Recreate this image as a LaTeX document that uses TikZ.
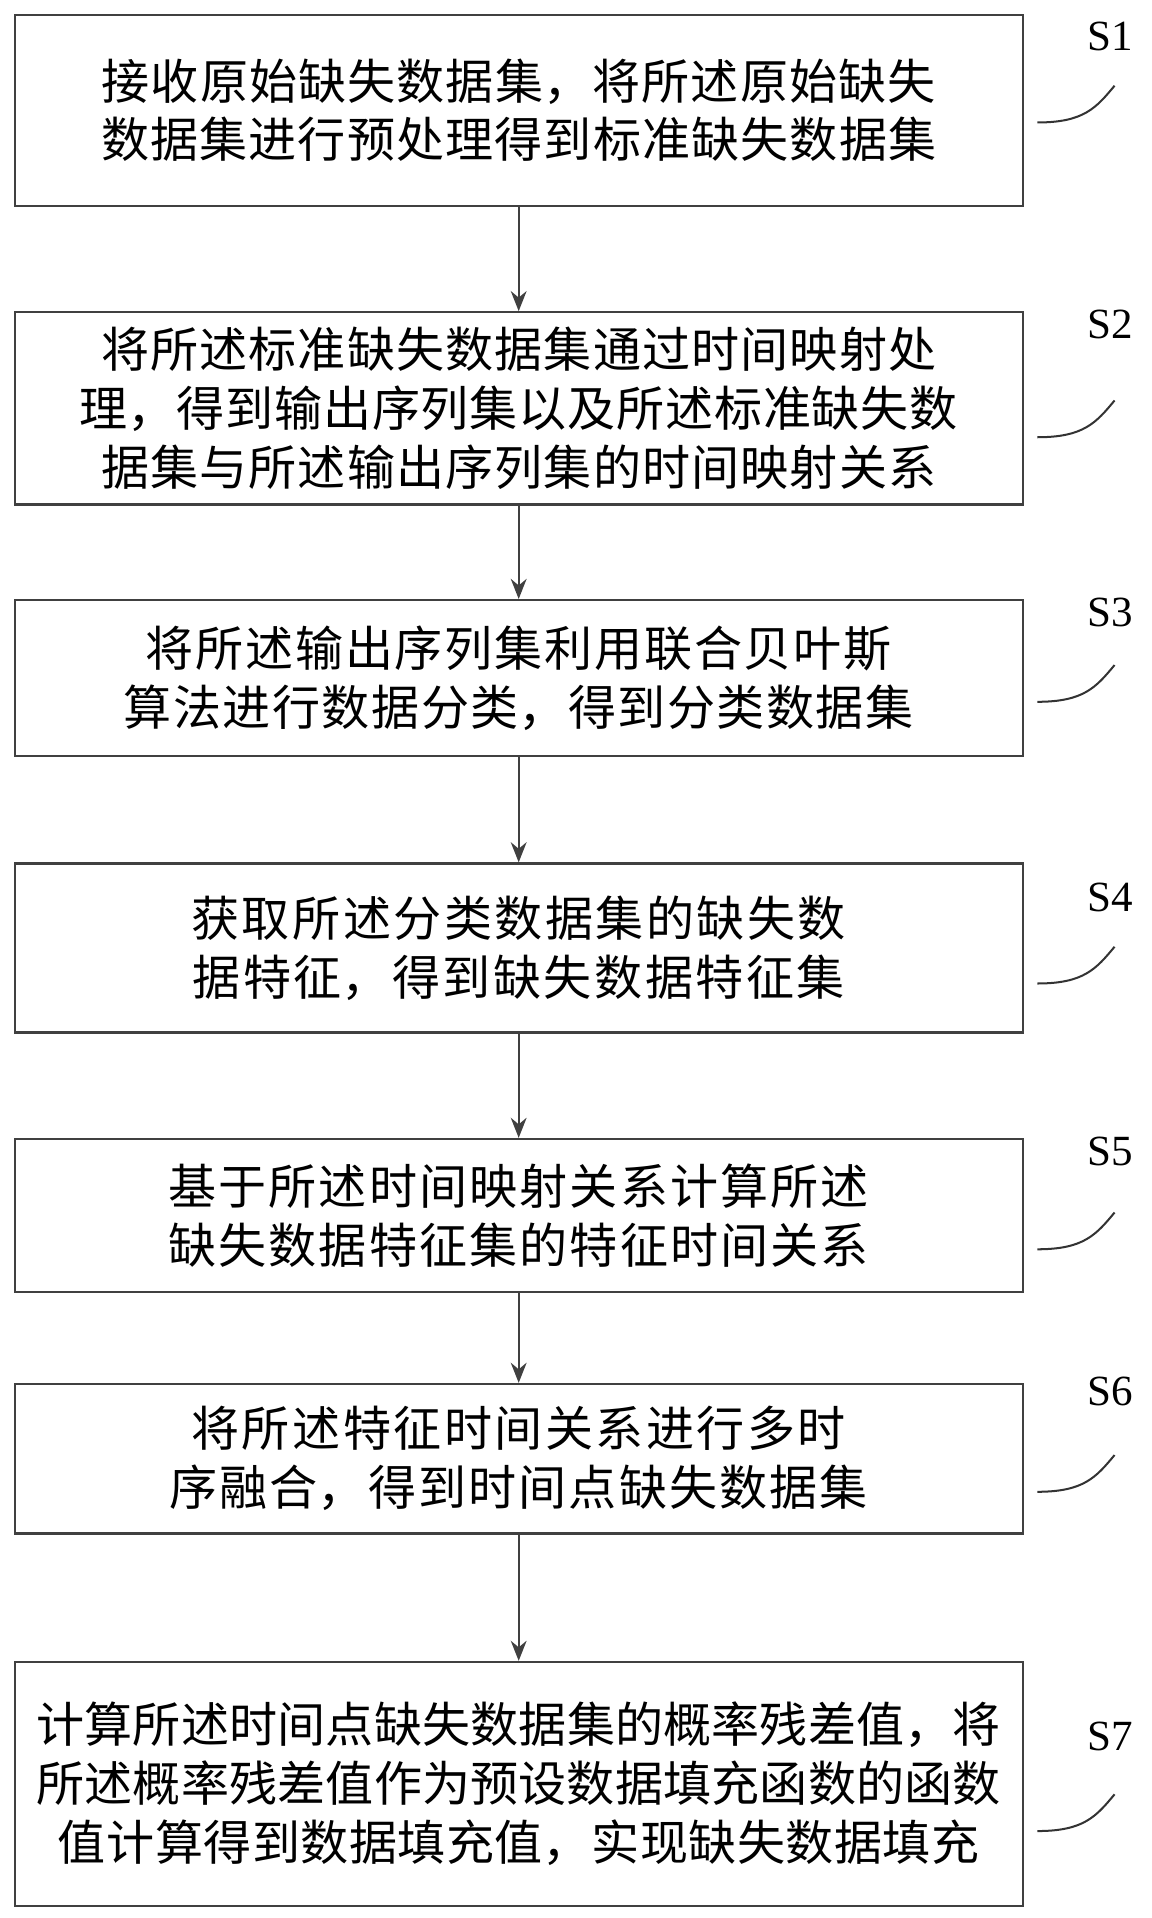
\documentclass[tikz,border=0pt]{standalone}
\usepackage{fontspec}
\setmainfont{Liberation Serif}
\newfontfamily\cjk{Noto Sans CJK SC}
\XeTeXlinebreaklocale "zh"
\XeTeXlinebreakskip=0pt plus 1pt
\usetikzlibrary{arrows.meta}
\tikzset{
  stepbox/.style={draw=black!75, line width=1.6pt, minimum width=823*0.03cm, text width=805*0.03cm,
    align=center, font=\cjk\fontsize{33.5}{41}\selectfont, inner sep=0pt},
  flow/.style={draw=black!75, line width=1.6pt, -{Stealth[length=14pt,width=11pt]}},
  tag/.style={font=\fontsize{30}{30}\selectfont, anchor=south west, inner sep=0pt},
  hook/.style={draw=black!80, line width=1.4pt}
}
\begin{document}
\begin{tikzpicture}[x=0.03cm,y=-0.03cm]
    \path[use as bounding box] (0,0) rectangle (940,1566);
    % Steps.
    \node[stepbox, minimum height=156*0.03cm] (s1) at (423.5,90) {接收原始缺失数据集，将所述原始缺失数据集进行预处理得到标准缺失数据集};
    \node[stepbox, minimum height=157*0.03cm] (s2) at (423.5,333.5) {将所述标准缺失数据集通过时间映射处理，得到输出序列集以及所述标准缺失数据集与所述输出序列集的时间映射关系};
    \node[stepbox, minimum height=127*0.03cm] (s3) at (423.5,553.5) {将所述输出序列集利用联合贝叶斯算法进行数据分类，得到分类数据集};
    \node[stepbox, minimum height=138*0.03cm] (s4) at (423.5,774) {获取所述分类数据集的缺失数据特征，得到缺失数据特征集};
    \node[stepbox, minimum height=125*0.03cm] (s5) at (423.5,992.5) {基于所述时间映射关系计算所述缺失数据特征集的特征时间关系};
    \node[stepbox, minimum height=122*0.03cm] (s6) at (423.5,1191) {将所述特征时间关系进行多时序融合，得到时间点缺失数据集};
    \node[stepbox, minimum height=199*0.03cm] (s7) at (423.5,1456.5) {计算所述时间点缺失数据集的概率残差值，将所述概率残差值作为预设数据填充函数的函数值计算得到数据填充值，实现缺失数据填充};
    % Arrows.
    \foreach \a/\b in {s1/s2,s2/s3,s3/s4,s4/s5,s5/s6,s6/s7}
      \draw[flow] (\a.south) -- (\b.north);
    % Step labels.
    \foreach \n/\y/\t in {1/100/42,2/357/277,3/573/512,4/803/745,5/1020/952,6/1218/1148,7/1495/1430}{
      \draw[hook] (847,\y) .. controls (885,\y) and (895,\y-12) .. (910,\y-30);
      \node[tag] (l\n) at (888,\t) {S\n};
    }
\end{tikzpicture}
\end{document}
